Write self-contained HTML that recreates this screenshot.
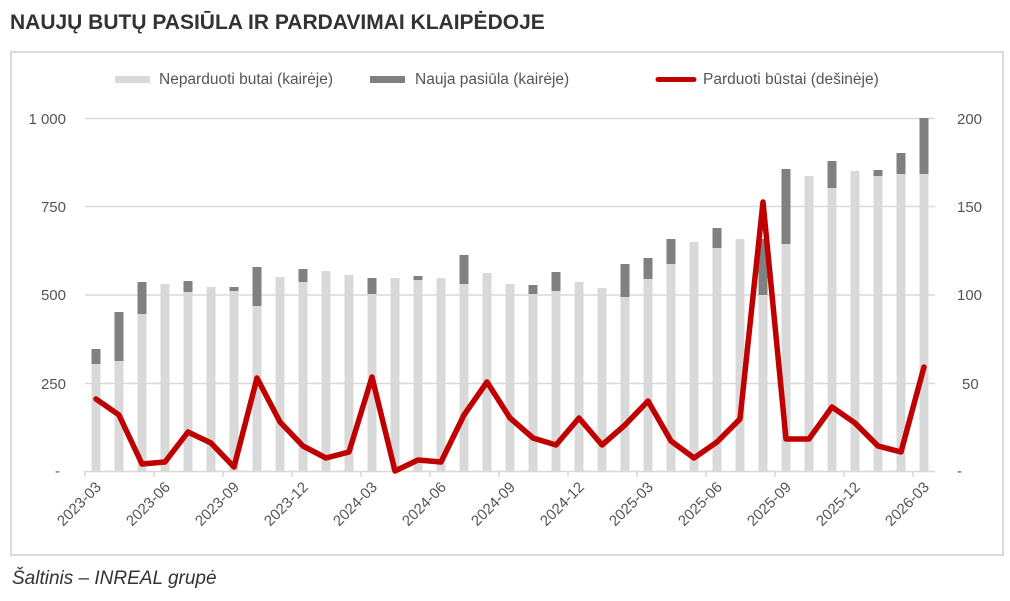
<!DOCTYPE html>
<html><head><meta charset="utf-8"><style>
body{margin:0;background:#fff;width:1010px;height:596px;overflow:hidden;font-family:"Liberation Sans",sans-serif}
</style></head><body>
<svg width="1010" height="596" xmlns="http://www.w3.org/2000/svg" font-family="Liberation Sans, sans-serif">
<text x="10" y="29" font-size="21" font-weight="bold" fill="#333">NAUJŲ BUTŲ PASIŪLA IR PARDAVIMAI KLAIPĖDOJE</text>
<rect x="11" y="52" width="992" height="503" fill="none" stroke="#d9d9d9" stroke-width="2"/>
<!-- legend -->
<rect x="115" y="76" width="35" height="7" fill="#d9d9d9"/>
<text x="159" y="84" font-size="15.5" fill="#555">Neparduoti butai (kairėje)</text>
<rect x="370" y="76" width="35" height="7" fill="#808080"/>
<text x="415" y="84" font-size="15.5" fill="#555">Nauja pasiūla (kairėje)</text>
<line x1="658" y1="79.5" x2="694" y2="79.5" stroke="#c00000" stroke-width="5" stroke-linecap="round"/>
<text x="703" y="84" font-size="15.5" fill="#555">Parduoti būstai (dešinėje)</text>
<!-- grid -->
<g stroke="#d9d9d9" stroke-width="1.5">
<line x1="85" y1="118.5" x2="935" y2="118.5"/>
<line x1="85" y1="206.5" x2="935" y2="206.5"/>
<line x1="85" y1="295" x2="935" y2="295"/>
<line x1="85" y1="383.5" x2="935" y2="383.5"/>
</g>
<g font-size="15" fill="#555" text-anchor="end">
<text x="66" y="124">1 000</text><text x="66" y="212">750</text><text x="66" y="300">500</text><text x="66" y="389">250</text><text x="60" y="476">-</text>
</g>
<g font-size="15" fill="#555">
<text x="957" y="124">200</text><text x="957" y="212">150</text><text x="957" y="300">100</text><text x="962" y="389">50</text><text x="957" y="476">-</text>
</g>
<!-- bars -->
<g fill="#d9d9d9">
<rect x="91.5" y="364" width="9" height="107"/><rect x="114.5" y="361" width="9" height="110"/><rect x="137.5" y="314" width="9" height="157"/><rect x="160.5" y="284" width="9" height="187"/><rect x="183.5" y="292" width="9" height="179"/><rect x="206.5" y="287" width="9" height="184"/><rect x="229.5" y="291" width="9" height="180"/><rect x="252.5" y="306" width="9" height="165"/><rect x="275.5" y="277" width="9" height="194"/><rect x="298.5" y="282" width="9" height="189"/><rect x="321.5" y="271" width="9" height="200"/><rect x="344.5" y="275" width="9" height="196"/><rect x="367.5" y="294" width="9" height="177"/><rect x="390.5" y="278" width="9" height="193"/><rect x="413.5" y="280" width="9" height="191"/><rect x="436.5" y="278" width="9" height="193"/><rect x="459.5" y="284" width="9" height="187"/><rect x="482.5" y="273" width="9" height="198"/><rect x="505.5" y="284" width="9" height="187"/><rect x="528.5" y="294" width="9" height="177"/><rect x="551.5" y="291" width="9" height="180"/><rect x="574.5" y="282" width="9" height="189"/><rect x="597.5" y="288" width="9" height="183"/><rect x="620.5" y="297" width="9" height="174"/><rect x="643.5" y="279" width="9" height="192"/><rect x="666.5" y="264" width="9" height="207"/><rect x="689.5" y="242" width="9" height="229"/><rect x="712.5" y="248" width="9" height="223"/><rect x="735.5" y="239" width="9" height="232"/><rect x="758.5" y="295" width="9" height="176"/><rect x="781.5" y="244" width="9" height="227"/><rect x="804.5" y="176" width="9" height="295"/><rect x="827.5" y="188" width="9" height="283"/><rect x="850.5" y="171" width="9" height="300"/><rect x="873.5" y="176" width="9" height="295"/><rect x="896.5" y="174" width="9" height="297"/><rect x="919.5" y="174" width="9" height="297"/>
</g>
<g fill="#808080">
<rect x="91.5" y="349" width="9" height="15"/><rect x="114.5" y="312" width="9" height="49"/><rect x="137.5" y="282" width="9" height="32"/><rect x="183.5" y="281" width="9" height="11"/><rect x="229.5" y="287" width="9" height="4"/><rect x="252.5" y="267" width="9" height="39"/><rect x="298.5" y="269" width="9" height="13"/><rect x="367.5" y="278" width="9" height="16"/><rect x="413.5" y="276" width="9" height="4"/><rect x="459.5" y="255" width="9" height="29"/><rect x="528.5" y="285" width="9" height="9"/><rect x="551.5" y="272" width="9" height="19"/><rect x="620.5" y="264" width="9" height="33"/><rect x="643.5" y="258" width="9" height="21"/><rect x="666.5" y="239" width="9" height="25"/><rect x="712.5" y="228" width="9" height="20"/><rect x="758.5" y="239" width="9" height="56"/><rect x="781.5" y="169" width="9" height="75"/><rect x="827.5" y="161" width="9" height="27"/><rect x="873.5" y="170" width="9" height="6"/><rect x="896.5" y="153" width="9" height="21"/><rect x="919.5" y="118" width="9" height="56"/>
</g>
<!-- axis -->
<line x1="85" y1="471.5" x2="935" y2="471.5" stroke="#d9d9d9" stroke-width="1.5"/>
<g stroke="#d9d9d9" stroke-width="1.5">
<line x1="85" y1="471" x2="85" y2="477"/><line x1="154" y1="471" x2="154" y2="477"/><line x1="223" y1="471" x2="223" y2="477"/><line x1="292" y1="471" x2="292" y2="477"/><line x1="361" y1="471" x2="361" y2="477"/><line x1="430" y1="471" x2="430" y2="477"/><line x1="499" y1="471" x2="499" y2="477"/><line x1="568" y1="471" x2="568" y2="477"/><line x1="637" y1="471" x2="637" y2="477"/><line x1="706" y1="471" x2="706" y2="477"/><line x1="775" y1="471" x2="775" y2="477"/><line x1="844" y1="471" x2="844" y2="477"/><line x1="913" y1="471" x2="913" y2="477"/>
</g>
<!-- line -->
<polyline fill="none" stroke="#c00000" stroke-width="5.5" stroke-linejoin="round" stroke-linecap="round" points="96,399 119,415 142,464 165,462 188,432 211,443 234,467 257,378 280,422 303,446 326,458 349,452 372,377 395,471 418,460 441,462 464,415 487,382 510,418 533,438 556,445 579,418 602,445 625,425 648,401 671,441 694,458 717,442 740,419 763,202 786,439 809,439 832,407 855,423 878,446 901,452 924,367"/>
<!-- x labels -->
<g font-size="15" fill="#555" text-anchor="end">
<text transform="translate(102,488) rotate(-45)">2023-03</text>
<text transform="translate(171,488) rotate(-45)">2023-06</text>
<text transform="translate(240,488) rotate(-45)">2023-09</text>
<text transform="translate(309,488) rotate(-45)">2023-12</text>
<text transform="translate(378,488) rotate(-45)">2024-03</text>
<text transform="translate(447,488) rotate(-45)">2024-06</text>
<text transform="translate(516,488) rotate(-45)">2024-09</text>
<text transform="translate(585,488) rotate(-45)">2024-12</text>
<text transform="translate(654,488) rotate(-45)">2025-03</text>
<text transform="translate(723,488) rotate(-45)">2025-06</text>
<text transform="translate(792,488) rotate(-45)">2025-09</text>
<text transform="translate(861,488) rotate(-45)">2025-12</text>
<text transform="translate(930,488) rotate(-45)">2026-03</text>
</g>
<text x="12" y="584" font-size="19" font-style="italic" fill="#333">Šaltinis – INREAL grupė</text>
</svg>
</body></html>
